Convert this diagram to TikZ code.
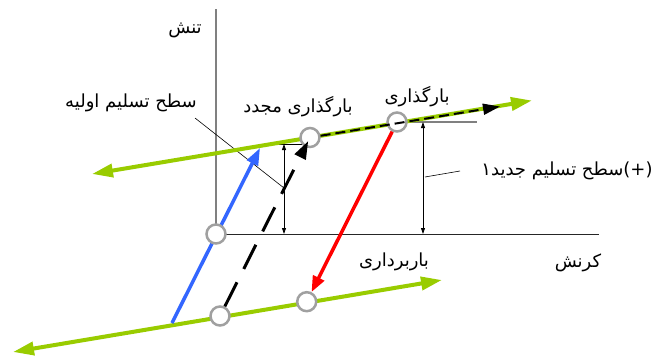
\documentclass[tikz,border=0pt]{standalone}
\usepackage{fontspec}
\newfontfamily\fa[Script=Arabic]{DejaVu Sans}
\TeXXeTstate=1
\usetikzlibrary{arrows.meta}
\definecolor{lgreen}{HTML}{99CC00}
\definecolor{lblue}{HTML}{3366FF}
\definecolor{cgray}{HTML}{A0A0A0}
\definecolor{agray}{HTML}{808080}
\begin{document}
\begin{tikzpicture}[x=1pt,y=-1pt,
  pt/.style={circle,draw=cgray,line width=2.5pt,fill=white,minimum size=19pt,inner sep=0pt},
  gline/.style={lgreen,line width=4pt,{Triangle[length=21pt,width=13pt]}-{Triangle[length=21pt,width=13pt]}},
  lbl/.style={font=\fa\fontsize{18}{20}\selectfont,inner sep=0pt},
  dimarr/.style={black,line width=0.8pt,{Triangle[length=6pt,width=4pt]}-{Triangle[length=6pt,width=4pt]}},
  lead/.style={black,line width=0.6pt}]
\useasboundingbox (0,0) rectangle (665,356);
% coordinates
\coordinate (UL) at (92,174);
\coordinate (UR) at (532,100.5);
\coordinate (LL) at (13,352);
\coordinate (LR) at (442,280);
\coordinate (Btop) at (260,148);
\coordinate (Bbot) at (172,323);
\coordinate (Ytop) at (216,9);
\coordinate (Xend) at (599,234);
\coordinate (Ktip) at (500,106.5);
\coordinate (R1a) at (263,144);
\coordinate (R1b) at (310,144);
\coordinate (R2b) at (477,122);
\coordinate (D1t) at (284,144);
\coordinate (D1b) at (284,234);
\coordinate (D2t) at (423,122);
\coordinate (D2b) at (423,234);
\coordinate (L1a) at (195,118);
\coordinate (L1b) at (284,188);
\coordinate (L2a) at (425,177);
\coordinate (L2b) at (460,171);
% axes
\draw[agray,line width=2pt] (Ytop) -- (216,234);
\draw[black!85,line width=1pt] (216,234) -- (Xend);
% reference lines, dimensions, leaders
\draw[black,line width=0.8pt] (R1a) -- (R1b);
\draw[agray,line width=1.2pt] (397,122) -- (R2b);
\draw[dimarr] (D1t) -- (D1b);
\draw[dimarr] (D2t) -- (D2b);
\draw[lead] (L1a) -- (L1b);
\draw[lead] (L2a) -- (L2b);
% green lines
\draw[gline] (UL) -- (UR);
\draw[gline] (LL) -- (LR);
% blue
\draw[lblue,line width=3.5pt,-{Triangle[length=17pt,width=12pt]}] (Bbot) -- (Btop);
% circles
\node[pt] (O) at (216,234) {};
\node[pt] (A) at (220,316) {};
\node[pt] (B) at (306.7,301.7) {};
\node[pt] (C) at (310,137.5) {};
\node[pt] (D) at (397,122) {};
% red
\draw[red,line width=3.5pt,-{Triangle[length=16pt,width=12pt]}] (D) -- (B);
% black dashed
\draw[black,line width=3pt,dash pattern=on 27pt off 15pt,-{Triangle[length=18pt,width=12pt]},shorten >=4pt] (A) -- (C.center);
\draw[black,line width=2pt,dash pattern=on 10pt off 5pt,-{Triangle[length=17pt,width=11pt]}] (C) -- (Ktip);
% labels
\node[lbl] (t1) at (185,30) {\beginR تنش\endR};
\node[lbl] (t2) at (131,103) {\beginR سطح تسلیم اولیه\endR};
\node[lbl] (t3) at (298,107) {\beginR بارگذاری مجدد\endR};
\node[lbl] (t4) at (417,97) {\beginR بارگذاری\endR};
\node[lbl] (t5) at (567,171) {\beginR سطح تسلیم جدید۱\endR(+)};
\node[lbl] (t6) at (394,262) {\beginR باربرداری\endR};
\node[lbl] (t7) at (578,263) {\beginR کرنش\endR};
\end{tikzpicture}
\end{document}
